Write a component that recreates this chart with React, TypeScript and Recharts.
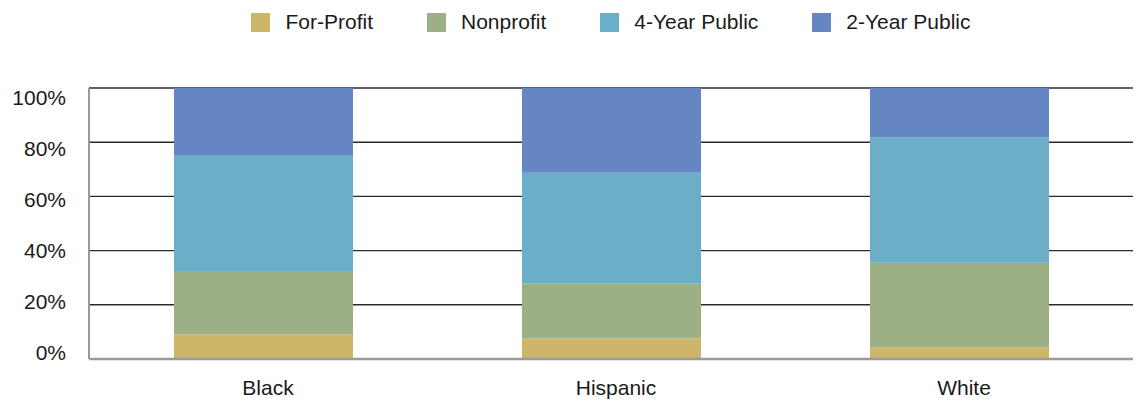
import { Bar, BarChart, CartesianGrid, XAxis, YAxis } from "recharts";

const categories = ["Black", "Hispanic", "White"];
const forProfit = [9, 7.6, 4.3];
const nonprofit = [23.5, 20.3, 31.2];
const fourYearPublic = [42.5, 40.8, 46.3];
const twoYearPublic = [25, 31.3, 18.2];
const yTicks = [0, 20, 40, 60, 80, 100];

const series = [
  { key: "forProfit", name: "For-Profit", color: "#cdb569" },
  { key: "nonprofit", name: "Nonprofit", color: "#9daf85" },
  { key: "fourYear", name: "4-Year Public", color: "#6aaec7" },
  { key: "twoYear", name: "2-Year Public", color: "#6686c3" },
];

const data = categories.map((name, i) => ({
  name,
  forProfit: forProfit[i],
  nonprofit: nonprofit[i],
  fourYear: fourYearPublic[i],
  twoYear: twoYearPublic[i],
}));

const FONT = '"Liberation Sans", Arial, Helvetica, sans-serif';
const textStyle = { fontFamily: FONT, fontSize: 21, fill: "#1a1a1a" };

// labels in the original sit a bit lower at the top, higher at the bottom
function YTick({ x, y, payload }: any) {
  const shift = -7 + 0.16 * payload.value;
  return (
    <text x={x} y={y + shift} textAnchor="end" dominantBaseline="central" style={textStyle}>
      {`${payload.value}%`}
    </text>
  );
}

export default function App() {
  return (
    <div style={{ position: "absolute", top: 0, left: 0, width: 1138, height: 400, overflow: "hidden", background: "#fff" }}>
      <div
        style={{
          position: "absolute",
          top: 12,
          left: 89,
          width: 1044,
          height: 20,
          display: "flex",
          justifyContent: "center",
          alignItems: "center",
          fontFamily: FONT,
          fontSize: 21,
          color: "#1a1a1a",
        }}
      >
        {series.map((s, i) => (
          <div key={s.key} style={{ display: "flex", alignItems: "center", marginLeft: i ? 54 : 0 }}>
            <span style={{ width: 19, height: 19, background: s.color, display: "inline-block", marginRight: 15 }} />
            <span>{s.name}</span>
          </div>
        ))}
      </div>
      <BarChart width={1138} height={400} data={data} margin={{ top: 88, right: 5, left: 0, bottom: 0 }}>
        <CartesianGrid vertical={false} stroke="#2a2a2a" strokeWidth={1.4} />
        <XAxis
          dataKey="name"
          height={41}
          tickLine={false}
          tickSize={0}
          tickMargin={21}
          axisLine={{ stroke: "#9a9a9a", strokeWidth: 2.5 }}
          tick={{ ...textStyle, dx: 5 }}
        />
        <YAxis
          width={89}
          domain={[0, 100]}
          ticks={yTicks}
          tickLine={false}
          tickSize={0}
          tickMargin={23}
          axisLine={{ stroke: "#9a9a9a", strokeWidth: 2 }}
          tick={<YTick />}
        />
        {series.map((s) => (
          <Bar key={s.key} dataKey={s.key} name={s.name} stackId="a" fill={s.color} barSize={179} isAnimationActive={false} />
        ))}
      </BarChart>
    </div>
  );
}
